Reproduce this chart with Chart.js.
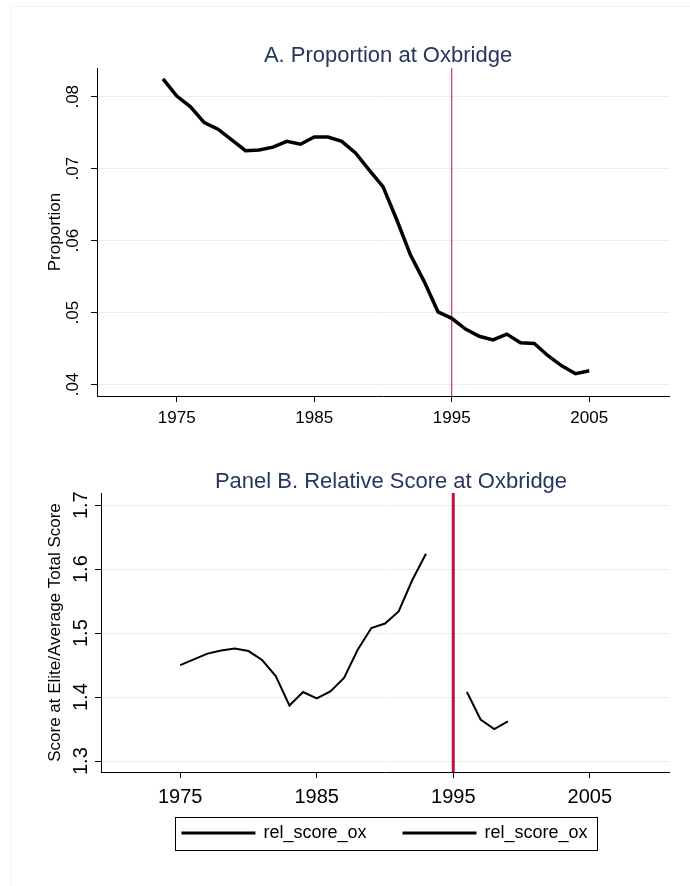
<!DOCTYPE html>
<html>
<head>
<meta charset="utf-8">
<script src="https://cdn.jsdelivr.net/npm/chart.js@4"></script>
<style>
  html, body { margin: 0; padding: 0; background: #fff; }
  #wrap { position: relative; width: 690px; height: 886px; overflow: hidden; background: #fff; }
  #frame { position: absolute; left: 11px; top: 6px; width: 690px; height: 890px;
           border-top: 1px solid #eef4f4; border-left: 1px solid #eef4f4; pointer-events: none; }
  #c1 { position: absolute; left: 0; top: 0; }
  #c2 { position: absolute; left: 0; top: 440px; }
</style>
</head>
<body>
<div id="wrap">
  <div id="frame"></div>
  <canvas id="c1" width="690" height="440"></canvas>
  <canvas id="c2" width="690" height="446"></canvas>
</div>
<script>
// ---------- data ----------
const topYears = [1974,1975,1976,1977,1978,1979,1980,1981,1982,1983,1984,1985,1986,1987,1988,1989,
                  1990,1991,1992,1993,1994,1995,1996,1997,1998,1999,2000,2001,2002,2003,2004,2005];
const propOxbridge = [0.0825,0.0801,0.0786,0.0764,0.0755,0.0740,0.0725,0.0726,0.0730,0.0738,0.0734,
                      0.0744,0.0744,0.0738,0.0722,0.0698,0.0675,0.0629,0.0580,0.0543,0.0501,0.0492,
                      0.0477,0.0467,0.0462,0.0470,0.0458,0.0457,0.0440,0.0426,0.0415,0.0419];

const preYears = [1975,1976,1977,1978,1979,1980,1981,1982,1983,1984,1985,1986,1987,1988,1989,1990,1991,1992,1993];
const relScorePre = [1.450,1.459,1.468,1.473,1.476,1.472,1.458,1.433,1.387,1.408,1.398,1.409,1.430,1.474,
                     1.508,1.515,1.534,1.583,1.624];
const postYears = [1996,1997,1998,1999];
const relScorePost = [1.408,1.365,1.350,1.362];

const xTicks = [1975,1985,1995,2005];
const topYTicks = [0.04,0.05,0.06,0.07,0.08];
const botYTicks = [1.3,1.4,1.5,1.6,1.7];
const refYear = 1995;

const topTitle = 'A. Proportion at Oxbridge';
const topYLabel = 'Proportion';
const botTitle = 'Panel B. Relative Score at Oxbridge';
const botYLabel = 'Score at Elite/Average Total Score';
const legendLabels = ['rel_score_ox','rel_score_ox'];

// ---------- helpers ----------
const FONT = "'Liberation Sans', Arial, Helvetica, sans-serif";
Chart.defaults.font.family = FONT;
Chart.defaults.color = '#000';
const TITLE_COLOR = '#27365f';
const GRID_COLOR = '#e8eff1';
const REF_COLOR = '#c0103c';

const pts = (xs, ys) => xs.map((x, i) => ({x: x, y: ys[i]}));

const refLinePlugin = {
  id: 'refLine',
  beforeDatasetsDraw(chart, args, opts) {
    const {ctx, chartArea} = chart;
    const x = chart.scales.x.getPixelForValue(opts.year);
    ctx.save();
    ctx.strokeStyle = opts.color;
    ctx.lineWidth = opts.width;
    ctx.beginPath();
    ctx.moveTo(x, chartArea.top);
    ctx.lineTo(x, chartArea.bottom);
    ctx.stroke();
    ctx.restore();
  }
};

// nudges the title block sideways (Stata centres titles slightly right of the plot centre)
const titleShiftPlugin = {
  id: 'titleShift',
  afterLayout(chart, args, opts) {
    const t = chart.titleBlock;
    if (!t) return;
    t.left += opts.dx;
    t.right += opts.dx;
  }
};

// Stata-style legend: framed, and lifted up closer to the axis labels
const legendBoxPlugin = {
  id: 'legendBox',
  afterLayout(chart, args, opts) {
    const lg = chart.legend;
    if (!lg) return;
    lg.top -= opts.shift;
    lg.bottom -= opts.shift;
  },
  afterDraw(chart) {
    const lg = chart.legend;
    if (!lg || !lg.legendHitBoxes || !lg.legendHitBoxes.length) return;
    const hb = lg.legendHitBoxes;
    const first = hb[0], last = hb[hb.length - 1];
    const x0 = first.left - 7, x1 = last.left + last.width + 10;
    const y0 = first.top - 7.5, y1 = first.top + first.height + 7.5;
    const ctx = chart.ctx;
    ctx.save();
    ctx.strokeStyle = '#000';
    ctx.lineWidth = 1;
    ctx.strokeRect(Math.round(x0) + 0.5, Math.round(y0) + 0.5, Math.round(x1 - x0), Math.round(y1 - y0));
    ctx.restore();
  }
};

function xScale(fontSize, pad, height) {
  return {
    type: 'linear',
    min: 1969.2, max: 2010.8,
    afterBuildTicks: s => { s.ticks = xTicks.map(v => ({value: v})); },
    afterFit: s => { s.height = height; },
    ticks: { font: {size: fontSize}, padding: pad, maxRotation: 0, autoSkip: false,
             callback: v => String(v) },
    grid: { display: true, drawOnChartArea: false, drawTicks: true, tickLength: 6, tickColor: '#000' },
    border: { display: true, color: '#000', width: 1 }
  };
}

function yScale(min, max, ticks, digits, fontSize, pad, width, label) {
  return {
    type: 'linear',
    min: min, max: max,
    afterBuildTicks: s => { s.ticks = ticks.map(v => ({value: v})); },
    afterFit: s => { s.width = width; },
    ticks: { font: {size: fontSize}, padding: pad, minRotation: 90, maxRotation: 90,
             crossAlign: 'center', autoSkip: false,
             callback: v => digits === 2 ? v.toFixed(2).replace(/^0/, '') : v.toFixed(1) },
    grid: { color: GRID_COLOR, lineWidth: 1, drawTicks: true, tickLength: 6, tickColor: '#000' },
    border: { display: true, color: '#000', width: 1 },
    title: { display: true, text: label, font: {size: 17}, color: '#000', padding: {top: 45, bottom: 0} }
  };
}

// ---------- Panel A ----------
new Chart(document.getElementById('c1'), {
  type: 'line',
  data: {
    datasets: [{
      label: 'prop_ox',
      data: pts(topYears, propOxbridge),
      borderColor: '#000', backgroundColor: '#000',
      borderWidth: 3.5, pointRadius: 0, tension: 0, fill: false
    }]
  },
  options: {
    responsive: false, animation: false,
    layout: { padding: {left: 0, right: 21, top: 0, bottom: 0} },
    plugins: {
      legend: { display: false },
      tooltip: { enabled: false },
      title: { display: true, text: topTitle, color: TITLE_COLOR, fullSize: false,
               font: {size: 22, weight: 'normal', lineHeight: 1}, padding: {top: 44.7, bottom: 1.3} },
      refLine: { year: refYear, color: REF_COLOR, width: 1 },
      titleShift: { dx: 5 }
    },
    scales: {
      x: xScale(17, 6, 44),
      y: yScale(0.0384, 0.0840, topYTicks, 2, 17, 6, 97, topYLabel)
    }
  },
  plugins: [refLinePlugin, titleShiftPlugin]
});

// ---------- Panel B ----------
new Chart(document.getElementById('c2'), {
  type: 'line',
  data: {
    datasets: [
      { label: legendLabels[0], data: pts(preYears, relScorePre),
        borderColor: '#000', backgroundColor: '#000', borderWidth: 2, pointRadius: 0, tension: 0, fill: false },
      { label: legendLabels[1], data: pts(postYears, relScorePost),
        borderColor: '#000', backgroundColor: '#000', borderWidth: 2, pointRadius: 0, tension: 0, fill: false }
    ]
  },
  options: {
    responsive: false, animation: false,
    layout: { padding: {left: 0, right: 21, top: 0, bottom: 11} },
    plugins: {
      legend: { display: true, position: 'bottom', fullSize: false,
                labels: { font: {size: 18}, color: '#000', boxWidth: 72, boxHeight: 1, padding: 37 } },
      tooltip: { enabled: false },
      title: { display: true, text: botTitle, color: TITLE_COLOR, fullSize: false,
               font: {size: 22, weight: 'normal', lineHeight: 1}, padding: {top: 31, bottom: 0} },
      refLine: { year: refYear, color: REF_COLOR, width: 3 },
      titleShift: { dx: 6 },
      legendBox: { shift: 23 }
    },
    scales: {
      x: xScale(20, 7, 38),
      y: yScale(1.283, 1.719, botYTicks, 1, 20, 0, 101, botYLabel)
    }
  },
  plugins: [refLinePlugin, titleShiftPlugin, legendBoxPlugin]
});
</script>
</body>
</html>
